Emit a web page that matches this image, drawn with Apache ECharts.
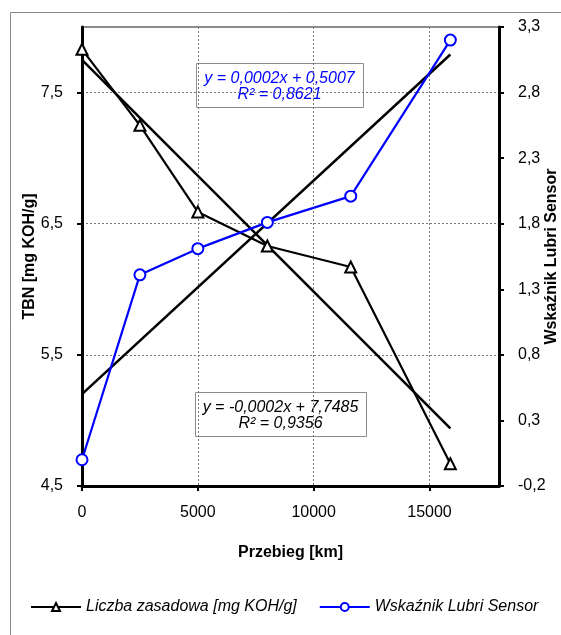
<!DOCTYPE html>
<html>
<head>
<meta charset="utf-8">
<script src="https://cdn.jsdelivr.net/npm/echarts@6/dist/echarts.min.js"></script>
<style>
  html, body { margin: 0; padding: 0; background: #fff; }
  #main { width: 561px; height: 635px; }
</style>
</head>
<body>
<div id="main"></div>
<script>
// przebieg [km]
let przebieg = [0, 2500, 5000, 8000, 11600, 15900];
// liczba zasadowa TBN [mg KOH/g]
let tbn = [7.83, 7.25, 6.59, 6.33, 6.17, 4.67];
// wskaznik Lubri Sensor
let lubri = [0.0, 1.41, 1.61, 1.81, 2.01, 3.2];
// linie trendu (poczatek i koniec)
let trendX = [0, 15900];
let tbnTrend = [7.75, 4.94];
let lubriTrend = [0.50, 3.09];
// podzialki osi
let tbnTicks = [4.5, 5.5, 6.5, 7.5];
let lubriTicks = [-0.2, 0.3, 0.8, 1.3, 1.8, 2.3, 2.8, 3.3];

let font = "'Liberation Sans', Arial, sans-serif";
let comma = v => v.toFixed(1).replace('.', ',');
let pairs = (xs, ys) => xs.map((x, i) => [x, ys[i]]);

var myChart = echarts.init(document.getElementById('main'));

var option = {
    animation: false,
    backgroundColor: '#fff',
    textStyle: { fontFamily: font },
    grid: {
        left: 82, right: 62, top: 27, bottom: 149,
        outerBoundsMode: 'none',
        show: true, borderColor: '#8c8c8c', borderWidth: 2
    },
    legend: {
        data: ['Liczba zasadowa [mg KOH/g]', 'Wskaźnik Lubri Sensor'],
        left: 25, top: 594,
        itemWidth: 50, itemHeight: 10, itemGap: 22,
        textStyle: { fontFamily: font, fontSize: 16, fontStyle: 'italic', color: '#000' }
    },
    xAxis: {
        type: 'value', min: 0, max: 18000, interval: 5000,
        name: 'Przebieg [km]', nameLocation: 'middle', nameGap: 59, nameMoveOverlap: false,
        nameTextStyle: { fontFamily: font, fontSize: 16, fontWeight: 'bold', color: '#000' },
        axisLine: { show: true, onZero: false, lineStyle: { color: '#000', width: 3 } },
        axisTick: { show: true, length: 5, lineStyle: { color: '#000', width: 2 } },
        axisLabel: { showMaxLabel: false, margin: 19, formatter: v => String(v), fontFamily: font, fontSize: 16, color: '#000' },
        splitLine: { show: true, lineStyle: { color: '#777', width: 1, type: [2, 2] } }
    },
    yAxis: [{
        type: 'value', min: 4.5, max: 8, position: 'left',
        name: 'TBN [mg KOH/g]', nameLocation: 'middle', nameGap: 44, nameRotate: 90, nameMoveOverlap: false,
        nameTextStyle: { fontFamily: font, fontSize: 16, fontWeight: 'bold', color: '#000' },
        axisLine: { show: true, onZero: false, lineStyle: { color: '#000', width: 3 } },
        axisTick: { show: true, length: 5, customValues: tbnTicks, lineStyle: { color: '#000', width: 2 } },
        axisLabel: { customValues: tbnTicks, formatter: comma, margin: 19, fontFamily: font, fontSize: 16, color: '#000' },
        splitLine: { show: true, lineStyle: { color: '#777', width: 1, type: [2, 2] } }
    }, {
        type: 'value', min: -0.2, max: 3.3, position: 'right',
        name: 'Wskaźnik Lubri Sensor', nameLocation: 'middle', nameGap: 45, nameRotate: 90, nameMoveOverlap: false,
        nameTextStyle: { fontFamily: font, fontSize: 16, fontWeight: 'bold', color: '#000' },
        axisLine: { show: true, onZero: false, lineStyle: { color: '#000', width: 3 } },
        axisTick: { show: true, length: 5, customValues: lubriTicks, lineStyle: { color: '#000', width: 2 } },
        axisLabel: { customValues: lubriTicks, formatter: comma, margin: 19, fontFamily: font, fontSize: 16, color: '#000' },
        splitLine: { show: false }
    }],
    series: [{
        name: 'Liczba zasadowa [mg KOH/g]',
        type: 'line', yAxisIndex: 0,
        data: pairs(przebieg, tbn),
        symbol: 'emptyTriangle', symbolSize: 11,
        lineStyle: { color: '#000', width: 2.2 },
        itemStyle: { color: '#000', borderColor: '#000', borderWidth: 1.5 },
        z: 3
    }, {
        name: 'Wskaźnik Lubri Sensor',
        type: 'line', yAxisIndex: 1,
        data: pairs(przebieg, lubri),
        symbol: 'emptyCircle', symbolSize: 11,
        lineStyle: { color: '#0000ff', width: 2.2 },
        itemStyle: { color: '#0000ff', borderColor: '#0000ff', borderWidth: 1.5 },
        z: 3
    }, {
        name: 'trend TBN',
        type: 'line', yAxisIndex: 0,
        data: pairs(trendX, tbnTrend),
        symbol: 'none',
        lineStyle: { color: '#000', width: 2.5 },
        z: 2
    }, {
        name: 'trend Lubri',
        type: 'line', yAxisIndex: 1,
        data: pairs(trendX, lubriTrend),
        symbol: 'none',
        lineStyle: { color: '#000', width: 2.5 },
        z: 2
    }],
    graphic: [{
        type: 'rect', left: 8, top: 10, z: -1, silent: true,
        shape: { width: 600, height: 700 },
        style: { fill: 'none', stroke: '#8c8c8c', lineWidth: 1 }
    }, {
        type: 'group', left: 196, top: 63, z: 10,
        children: [{
            type: 'rect', shape: { width: 167, height: 44 },
            style: { fill: '#fff', stroke: '#8c8c8c', lineWidth: 1 }
        }, {
            type: 'text', x: 83, y: 7,
            style: {
                text: 'y = 0,0002x + 0,5007\nR² = 0,8621', fill: '#0000ff',
                font: 'italic 16px ' + font, align: 'center', lineHeight: 16
            }
        }]
    }, {
        type: 'group', left: 195, top: 392, z: 10,
        children: [{
            type: 'rect', shape: { width: 171, height: 44 },
            style: { fill: '#fff', stroke: '#8c8c8c', lineWidth: 1 }
        }, {
            type: 'text', x: 85, y: 7,
            style: {
                text: 'y = -0,0002x + 7,7485\nR² = 0,9356', fill: '#000',
                font: 'italic 16px ' + font, align: 'center', lineHeight: 16
            }
        }]
    }]
};
myChart.setOption(option);
</script>
</body>
</html>
